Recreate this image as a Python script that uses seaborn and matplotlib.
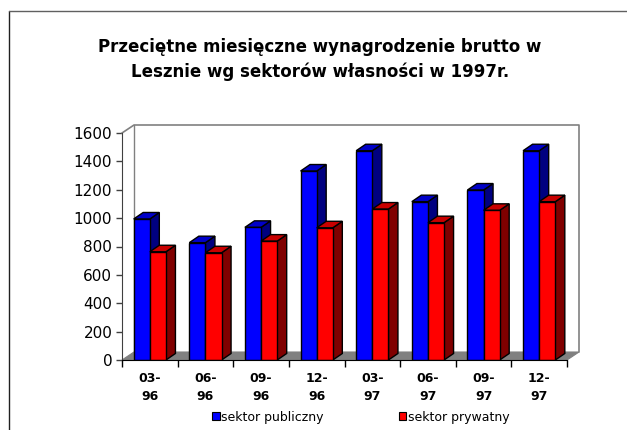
import matplotlib
matplotlib.use('Agg')
import matplotlib.pyplot as plt
import seaborn as sns
import pandas as pd
from matplotlib.patches import Polygon, Patch
from matplotlib.lines import Line2D

okresy = ['03-\n96', '06-\n96', '09-\n96', '12-\n96', '03-\n97', '06-\n97', '09-\n97', '12-\n97']
publiczny = [994, 827, 935, 1332, 1475, 1116, 1198, 1475]
prywatny = [763, 756, 838, 932, 1064, 968, 1055, 1116]
sektory = ['sektor publiczny', 'sektor prywatny']

df = pd.DataFrame({
    'okres': okresy * 2,
    'wartosc': publiczny + prywatny,
    'sektor': [sektory[0]] * len(okresy) + [sektory[1]] * len(okresy),
})

sns.set_style('white')
plt.rcParams['font.family'] = ['DejaVu Sans']
plt.rcParams['text.color'] = 'black'
plt.rcParams['xtick.color'] = 'black'
plt.rcParams['ytick.color'] = 'black'
plt.rcParams['axes.labelcolor'] = 'black'

W, H = 627, 430
fig = plt.figure(figsize=(W / 100, H / 100), dpi=100)
ax_l, ax_r, ax_b, ax_t = 122, 567, 360, 133
ax = fig.add_axes([ax_l / W, (H - ax_b) / H, (ax_r - ax_l) / W, (ax_b - ax_t) / H])

sns.barplot(data=df, x='okres', y='wartosc', hue='sektor', order=okresy,
            palette=['#0000FF', '#FF0000'], edgecolor='black', linewidth=1,
            width=0.58, saturation=1, ax=ax, legend=False)

ax.set_xlim(-0.5, len(okresy) - 0.5)
ax.set_ylim(0, 1600)
ax.set_yticks(range(0, 1601, 200))
ax.set_xlabel('')
ax.set_ylabel('')

# pixel -> data conversions
px_x = (len(okresy)) / (ax_r - ax_l)
px_y = 1600 / (ax_b - ax_t)
bdx, bdy = 9.5 * px_x, 6.5 * px_y
fdx, fdy = 12 * px_x, 8 * px_y

# 3D faces on bars
bars = sorted(list(ax.patches), key=lambda p: p.get_x())
shade = {'#0000ff': ('#0000C8', '#000080'), '#ff0000': ('#C80000', '#800000')}
for i, p in enumerate(bars):
    x0 = p.get_x()
    x1 = x0 + p.get_width()
    h = p.get_height()
    c = matplotlib.colors.to_hex(p.get_facecolor())
    top_c, side_c = shade[c]
    z = 3 + 3 * i
    side = Polygon([(x1, 0), (x1 + bdx, bdy), (x1 + bdx, h + bdy), (x1, h)],
                   closed=True, facecolor=side_c, edgecolor='black', linewidth=1, zorder=z)
    top = Polygon([(x0, h), (x0 + bdx, h + bdy), (x1 + bdx, h + bdy), (x1, h)],
                  closed=True, facecolor=top_c, edgecolor='black', linewidth=1, zorder=z + 1)
    ax.add_patch(side)
    ax.add_patch(top)
    p.set_zorder(z + 2)

# floor and walls
xa, xb = -0.5, len(okresy) - 0.5
floor = Polygon([(xa, 0), (xb, 0), (xb + fdx, fdy), (xa + fdx, fdy)], closed=True,
                facecolor='#808080', edgecolor='#808080', linewidth=0.8, zorder=1, clip_on=False)
ax.add_patch(floor)
wall_x = [xa, xa + fdx, xb + fdx, xb + fdx]
wall_y = [1600, 1600 + fdy, 1600 + fdy, fdy]
ax.plot(wall_x, wall_y, color='#808080', linewidth=1.2, clip_on=False, zorder=1)
ax.plot([xa + fdx, xa + fdx], [fdy, 1600 + fdy], color='#808080', linewidth=1, clip_on=False, zorder=1)

# axes styling
for s in ['top', 'right']:
    ax.spines[s].set_visible(False)
ax.spines['left'].set_color('#404040')
ax.spines['bottom'].set_color('black')
ax.spines['left'].set_zorder(50)
ax.spines['bottom'].set_zorder(50)
ax.set_xticks([k - 0.5 for k in range(len(okresy) + 1)], minor=False)
ax.set_xticklabels([])
ax.set_xticks(range(len(okresy)), minor=True)
ax.set_xticklabels(okresy, minor=True, fontsize=9, fontweight='bold', linespacing=1.45)
ax.tick_params(axis='x', which='major', direction='out', length=5, width=1, color='black', bottom=True)
ax.tick_params(axis='x', which='minor', length=0, pad=9)
ax.tick_params(axis='y', direction='out', length=4, width=1, color='#404040', left=True, labelsize=11, pad=3)

fig.suptitle('Przeciętne miesięczne wynagrodzenie brutto w\nLesznie wg sektorów własności w 1997r.',
             x=320 / W, y=1 - 38 / H, fontsize=12, fontweight='bold', linespacing=1.45, va='top',
             color='black')

handles = [Patch(facecolor='#0000FF', edgecolor='black', linewidth=0.8),
           Patch(facecolor='#FF0000', edgecolor='black', linewidth=0.8)]
fig.legend(handles, sektory, loc='center', bbox_to_anchor=(361 / W, 1 - 417 / H), ncol=2,
           frameon=False, fontsize=9, handlelength=0.6, handleheight=0.6,
           handletextpad=0.15, columnspacing=6.0, borderaxespad=0, labelcolor='black')

# outer frame
fig.add_artist(Line2D([9 / W, 9 / W], [0, 1 - 11 / H], color='#202020', linewidth=1))
fig.add_artist(Line2D([9 / W, 1], [1 - 11 / H, 1 - 11 / H], color='#606060', linewidth=1))

fig.savefig('out.png', dpi=100)
